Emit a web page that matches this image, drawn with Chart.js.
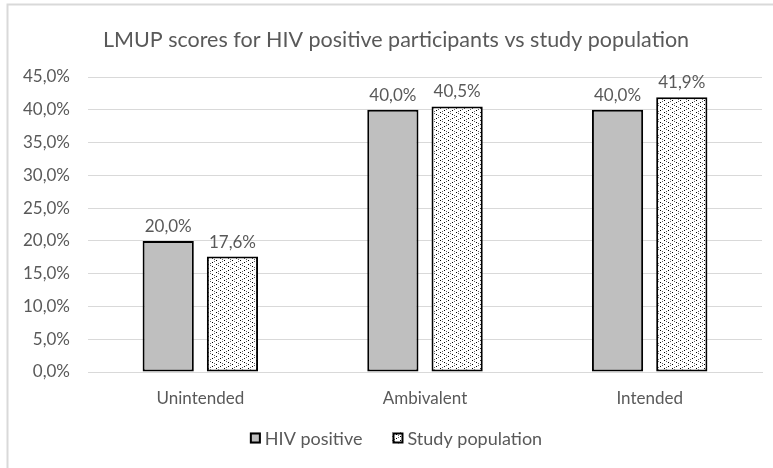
<!DOCTYPE html>
<html>
<head>
<meta charset="utf-8">
<script src="https://cdn.jsdelivr.net/npm/chart.js@4/dist/chart.umd.min.js"></script>
<style>
  html, body { margin: 0; padding: 0; background: #ffffff; }
  #wrap { width: 773px; height: 468px; position: relative; }
</style>
</head>
<body>
<div id="wrap"><canvas id="c" width="773" height="468"></canvas></div>
<script>
// LMUP score groups and the share of each group (%)
const categories = ['Unintended', 'Ambivalent', 'Intended'];
const hivPositive = [20.0, 40.0, 40.0];
const studyPopulation = [17.6, 40.5, 41.9];
const seriesNames = ['HIV positive', 'Study population'];
const yTicks = [0, 5, 10, 15, 20, 25, 30, 35, 40, 45];
const chartTitle = 'LMUP scores for HIV positive participants vs study population';

const TEXT = '#595959';
const GRID = '#d9d9d9';
const FONT = 'Lato, "Liberation Sans", sans-serif';

function pct(v) {
  return v.toFixed(1).replace('.', ',') + '%';
}

// Dotted fill used for the study population bars
function dotPattern() {
  const t = document.createElement('canvas');
  t.width = 8; t.height = 8;
  const g = t.getContext('2d');
  g.fillStyle = '#ffffff';
  g.fillRect(0, 0, 8, 8);
  g.fillStyle = '#000000';
  [[0, 0], [4, 2], [0, 4], [4, 6], [2, 1], [6, 5], [2, 7], [6, 3]].forEach(([x, y], i) => {
    g.globalAlpha = i < 4 ? 1 : 0.6;
    g.fillRect(x, y, 1, 1);
  });
  return g.createPattern(t, 'repeat');
}

const ctx = document.getElementById('c').getContext('2d');

// Light frame around the chart object
const framePlugin = {
  id: 'frame',
  beforeDraw(chart) {
    const g = chart.ctx;
    g.save();
    g.strokeStyle = GRID;
    g.lineWidth = 2;
    g.beginPath();
    g.moveTo(7.5, 468);
    g.lineTo(7.5, 4.5);
    g.lineTo(773, 4.5);
    g.stroke();
    g.restore();
  }
};

// Value labels above each bar
const valueLabels = {
  id: 'valueLabels',
  afterDatasetsDraw(chart) {
    const g = chart.ctx;
    g.save();
    g.font = '17px ' + FONT;
    g.fillStyle = TEXT;
    g.textAlign = 'center';
    g.textBaseline = 'bottom';
    chart.data.datasets.forEach((ds, di) => {
      chart.getDatasetMeta(di).data.forEach((bar, i) => {
        g.fillText(pct(ds.data[i]), bar.x, bar.y - 6);
      });
    });
    g.restore();
  }
};

// Title and legend centred on the chart object (frame starts at x = 7)
const titleLegend = {
  id: 'titleLegend',
  afterDraw(chart) {
    const g = chart.ctx;
    const cx = 396;
    g.save();
    g.fillStyle = TEXT;
    g.textBaseline = 'middle';
    g.textAlign = 'center';
    g.font = '21.5px ' + FONT;
    g.fillText(chartTitle, cx, 40);

    g.font = '18px ' + FONT;
    g.textAlign = 'left';
    const box = 11, gapText = 4, gapItem = 30;
    const items = chart.data.datasets.map(ds => ({
      ds, w: box + gapText + g.measureText(ds.label).width
    }));
    const total = items.reduce((s, it) => s + it.w, 0) + gapItem * (items.length - 1);
    let x = cx - total / 2;
    const y = 438;
    items.forEach(it => {
      g.fillStyle = it.ds.backgroundColor;
      g.fillRect(x, y - box / 2, box, box);
      g.strokeStyle = '#000000';
      g.lineWidth = 2;
      g.strokeRect(x + 1, y - box / 2 + 1, box - 2, box - 2);
      g.fillStyle = TEXT;
      g.fillText(it.ds.label, x + box + gapText, y + 1);
      x += it.w + gapItem;
    });
    g.restore();
  }
};

new Chart(ctx, {
  type: 'bar',
  data: {
    labels: categories,
    datasets: [
      {
        label: seriesNames[0],
        data: hivPositive,
        backgroundColor: '#bfbfbf',
        borderColor: '#000000',
        borderWidth: 2,
        borderSkipped: false
      },
      {
        label: seriesNames[1],
        data: studyPopulation,
        backgroundColor: dotPattern(),
        borderColor: '#000000',
        borderWidth: 2,
        borderSkipped: false
      }
    ]
  },
  options: {
    responsive: false,
    animation: false,
    devicePixelRatio: 1,
    categoryPercentage: 0.572,
    barPercentage: 0.797,
    layout: { padding: { left: 0, right: 11, top: 77, bottom: 48.5 } },
    plugins: {
      tooltip: { enabled: false },
      title: { display: false },
      legend: { display: false }
    },
    scales: {
      x: {
        grid: { display: false, drawTicks: false },
        border: { display: true, color: GRID, width: 1 },
        ticks: { color: TEXT, font: { family: FONT, size: 17 }, padding: 16 },
        afterFit(scale) { scale.height = 47.5; }
      },
      y: {
        min: 0,
        max: 45,
        afterBuildTicks(scale) { scale.ticks = yTicks.map(v => ({ value: v })); },
        grid: { color: GRID, drawTicks: false },
        border: { display: false },
        ticks: {
          color: TEXT,
          font: { family: FONT, size: 17 },
          padding: 18,
          callback: v => pct(v)
        },
        afterFit(scale) { scale.width = 88; }
      }
    }
  },
  plugins: [framePlugin, valueLabels, titleLegend]
});
</script>
</body>
</html>
